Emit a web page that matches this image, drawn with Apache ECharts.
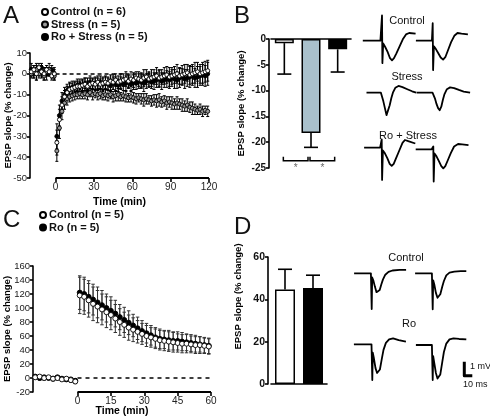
<!DOCTYPE html>
<html><head><meta charset="utf-8">
<script src="https://cdn.jsdelivr.net/npm/echarts@6/dist/echarts.min.js"></script>
<style>html,body{margin:0;padding:0;background:#fff}#c{width:490px;height:416px}</style>
</head><body><div id="c"></div>
<script>
// ---------------- Panel A data ----------------
const timeA = [-19,-17,-15,-13,-11,-9,-7,-5,-3,-1,
  1,3,5,7,9,11,13,15,17,19, 21,23,25,27,29,31,33,35,37,39,
  41,43,45,47,49,51,53,55,57,59, 61,63,65,67,69,71,73,75,77,79,
  81,83,85,87,89,91,93,95,97,99, 101,103,105,107,109,111,113,115,117,119];
const controlA = [1,2,0,3,1,0,2,1,-1,0,
  -33,-22,-15,-11,-9,-7.5,-7,-6.5,-6,-6, -5.5,-5,-6,-5,-4.5,-5,-4,-5,-4.5,-4,
  -4.5,-3.5,-4,-3,-4,-3.5,-3,-2.5,-3.5,-2.5, -3,-2,-2.5,-3,-2,-1.5,-2.5,-2,-1.5,-1,
  -2,-1.5,-1,-0.5,-1.5,-1,-0.5,0,-1,-0.5, 0,0.5,-0.5,0,0.5,1,0,0.5,1,1.5];
const stressA = [0,1,2,0,1,-1,1,2,0,-1,
  -37,-26,-18,-14,-12,-11,-10.5,-10,-10,-9.5, -10,-9.5,-10,-9,-10,-9.5,-10,-9.5,-10.5,-10,
  -10.5,-10,-11,-10.5,-10,-11,-10.5,-11,-11.5,-11, -11.5,-12,-11.5,-12,-12.5,-12,-12.5,-13,-12.5,-13,
  -12.5,-13.5,-13,-14,-13.5,-14,-14.5,-14,-14.5,-15, -15.5,-15,-16,-16.5,-17,-17.5,-17,-18,-17.5,-18];
const roStressA = [2,0,1,1,3,1,0,1,2,0,
  -30,-20,-13,-10,-8,-7,-6.5,-6,-5.5,-5, -5.5,-4.5,-5,-4,-5,-4.5,-5,-4,-5,-4.5,
  -5,-5.5,-4.5,-5,-5.5,-4.5,-5,-4.5,-4,-5, -4,-4.5,-3.5,-4,-4.5,-3.5,-3,-4,-3.5,-3,
  -2.5,-3.5,-3,-2.5,-3,-2,-2.5,-3,-2,-1.5, -2.5,-2,-1.5,-1,-2,-1.5,-1,-0.5,-1,0];
const controlAErr = [2,2,3,2,2,3,2,2,2,2,
  6,5,4,3,3,3,2.5,2.5,2.5,2.5, 2.5,3,2.5,3,2.5,3,3,2.5,3,3,
  3,3,3.5,3,3,3.5,3,3.5,3,3.5, 3.5,3,3.5,3.5,4,3.5,3.5,4,3.5,4,
  4,3.5,4,4,4.5,4,4,4.5,4,4.5, 4.5,4,4.5,4.5,5,4.5,4.5,5,5,5];
const stressAErr = [2,3,2,2,3,2,2,3,2,2,
  5,5,4,3,3,2.5,2.5,2.5,2,2.5, 2,2.5,2.5,2,2.5,2,2.5,2.5,2,2.5,
  2.5,2,2.5,2.5,3,2,2.5,2.5,2,2.5, 2.5,2.5,2,2.5,3,2.5,2,2.5,2.5,3,
  3,2.5,2.5,3,2.5,3,2.5,3,2.5,3, 2.5,3,2.5,3,2.5,2,2.5,2.5,2,2.5];
const roStressAErr = [3,2,4,2,2,2,3,2,2,3,
  6,5,4,3.5,3,3,3,2.5,3,2.5, 3,2.5,3,3,2.5,3,3,3,3,3,
  3,3,3,3.5,3,3,3,3.5,3,3, 3.5,3,3.5,3,4,3.5,3.5,3,4,3.5,
  4,4,3.5,4,4,4,4.5,4,4.5,4, 4.5,4,5,4.5,4.5,5,4.5,5,5,5.5];
const ticksA = [0,30,60,90,120];

// ---------------- Panel B data ----------------
const categoriesB = ['Control','Stress','Ro + Stress'];
const valuesB = [-0.8,-18.2,-2.0];
const errorsB = [6.0,2.8,4.4];
const sigPairsB = [[0,1],[1,2]];
const sigLevelB = -23.6;

// ---------------- Panel C data ----------------
const timeC = [-19,-17,-15,-13,-11,-9,-7,-5,-3,-1,
  1,3,5,7,9,11,13,15,17,19, 21,23,25,27,29,31,33,35,37,39, 41,43,45,47,49,51,53,55,57,59];
const controlC = [1,2,0,1,-1,0,-2,-1,-3,-5,
  118,116,111,106,102,98,94,90,85,80, 76,72,69,66,63,60,58,56,54,53, 52,51,50,49,49,48,47,47,46,45];
const roC = [2,0,1,0,-1,1,-1,-2,-2,-4,
  122,120,116,112,108,104,100,96,92,87, 83,79,75,71,67,64,61,58,56,55, 54,53,53,52,51,50,49,48,47,46];
const controlCErr = [2,2,3,2,2,3,2,2,3,3,
  26,25,24,24,23,22,22,21,20,19, 18,18,17,16,15,15,14,14,14,14, 14,14,13,13,13,12,12,12,11,11];
const roCErr = [2,3,2,2,3,2,2,3,2,3,
  24,24,23,22,22,21,20,20,19,18, 18,17,16,16,15,14,14,14,14,13, 14,13,13,13,12,12,12,11,11,11];
const ticksC = [0,15,30,45,60];

// ---------------- Panel D data ----------------
const categoriesD = ['Control','Ro'];
const valuesD = [44.6,45.4];
const errorsD = [9.6,6.0];

// ---------------- Example traces [ms, mV] ----------------
const traceBControl1 = [[-24,0],[-2,0],[0,1.8],[0.5,-1.6],[1.5,-0.2],[4,-0.45],[7,-0.8],[10,-1.25],[12.5,-1.4],[15,-1.25],[18,-0.9],[22,-0.4],[26,0.1],[30,0.45],[34,0.55],[42,0.5]];
const traceBControl2 = [[-21,0],[-1,0],[0,1.25],[0.5,-2.1],[1.5,-0.4],[4,-0.6],[7,-0.9],[10,-1.2],[13,-1.35],[16,-1.15],[19,-0.7],[23,-0.1],[27,0.35],[31,0.55],[36,0.5],[44,0.45]];
const traceBStress1 = [[-19,0],[-1,0],[0,-0.2],[2,-0.6],[4,-1.1],[6,-1.6],[7,-1.7],[8,-1.5],[10,-0.9],[12,-0.4],[14,0],[17,0.35],[21,0.48],[26,0.4],[32,0.25],[38,0.1],[43,0]];
const traceBStress2 = [[-21,0],[-1,0],[0,-0.1],[2,-0.4],[4,-0.8],[6,-1.1],[8,-1.25],[10,-1.0],[12,-0.5],[14,-0.1],[17,0.25],[21,0.38],[26,0.33],[32,0.2],[38,0.08],[46,0]];
const traceBRo1 = [[-22,0],[-2,0],[0,0.6],[0.5,-2.3],[1.5,-0.2],[4,-0.4],[7,-0.75],[10,-1.15],[12.5,-1.3],[15,-1.15],[18,-0.75],[22,-0.2],[26,0.35],[29,0.55],[34,0.45],[42,0.3]];
const traceBRo2 = [[-22,0],[-2,0],[0,0.2],[0.5,-2.3],[1.5,-0.3],[4,-0.5],[7,-0.85],[10,-1.2],[12.5,-1.36],[15,-1.2],[18,-0.8],[22,-0.25],[26,0.2],[31,0.38],[36,0.35],[44,0.3]];
const traceDControl1 = [[-22,0],[-1,0],[0,-2.55],[0.6,-0.3],[2,-0.5],[4,-0.95],[6,-1.35],[8,-1.42],[10,-1.2],[12,-0.8],[14,-0.45],[17,-0.1],[21,0.1],[26,0.2],[35,0.24],[43,0.25]];
const traceDControl2 = [[-22,0],[-1,0],[0,-2.57],[0.6,-0.5],[2,-0.8],[4,-1.4],[6,-1.75],[7.5,-1.8],[9.5,-1.5],[12,-0.95],[14,-0.55],[17,-0.15],[21,0.05],[27,0.12],[35,0.15],[42,0.15]];
const traceDRo1 = [[-23,0],[-1,0],[0,-2.55],[0.6,-0.6],[2,-1.0],[4,-1.7],[6,-2.05],[7.5,-2.12],[9.5,-1.8],[12,-1.0],[14,-0.4],[17,0.1],[21,0.35],[26,0.43],[33,0.3],[42,0.19]];
const traceDRo2 = [[-21,0],[-1,0],[0,-2.5],[0.6,-0.8],[2,-1.3],[4,-2.0],[6,-2.4],[7.5,-2.45],[9.5,-2.1],[12,-1.2],[14,-0.5],[17,0.1],[21,0.4],[26,0.48],[33,0.43],[42,0.4]];
const scaleBar = [[0,1],[0,0],[10,0]]; // 1 mV, 10 ms

// ---------------- build ----------------
const FONT = "'Liberation Sans', Arial, Helvetica, sans-serif";
const BLACK = '#000';
const barColorsB = ['#ffffff','#a9c0cb','#000000'];
const barColorsD = ['#ffffff','#000000'];

function errorBars(name, xi, yi, xs, ys, es, o) {
  return {
    type:'custom', name, xAxisIndex:xi, yAxisIndex:yi, silent:true, z:o.z || 2,
    encode:{x:0, y:1},
    data: xs.map((x,i)=>[x, ys[i], es[i]]),
    renderItem(params, api){
      const x = api.value(0), y = api.value(1), e = api.value(2);
      const t = api.coord([x, o.dir === 'lower' ? y : y + e]);
      const b = api.coord([x, o.dir === 'upper' ? y : y - e]);
      const w = o.cap / 2;
      const st = {stroke:o.color, lineWidth:o.width};
      const ch = [{type:'line', shape:{x1:t[0],y1:t[1],x2:b[0],y2:b[1]}, style:st}];
      if (o.dir !== 'lower') ch.push({type:'line', shape:{x1:t[0]-w,y1:t[1],x2:t[0]+w,y2:t[1]}, style:st});
      if (o.dir !== 'upper') ch.push({type:'line', shape:{x1:b[0]-w,y1:b[1],x2:b[0]+w,y2:b[1]}, style:st});
      return {type:'group', children:ch};
    }
  };
}
function scatter(name, xi, yi, xs, ys, fill, size, z) {
  return {type:'scatter', name, xAxisIndex:xi, yAxisIndex:yi, z:z,
    data: xs.map((x,i)=>[x, ys[i]]), symbol:'circle', symbolSize:size,
    itemStyle:{color:fill, borderColor:'#000', borderWidth:0.9, opacity:1}};
}
const axisLineStyle = {color:BLACK, width:1.6};
const nameStyle = {fontWeight:'bold', fontSize:9.5, color:BLACK, fontFamily:FONT};

const grid = [
  {left:30, top:53, width:179, height:125},
  {left:271, top:39, width:80, height:129},
  {left:33, top:266, width:178, height:126},
  {left:271, top:257, width:56, height:127}
];
const xAxis = [
  {gridIndex:0, type:'value', min:-20, max:120,
    axisLine:{show:false, onZero:false}, splitLine:{show:false},
    axisTick:{show:true, customValues:ticksA, length:4, lineStyle:axisLineStyle},
    axisLabel:{customValues:ticksA, fontSize:10, color:'#222', margin:4},
    name:'Time (min)', nameLocation:'middle', nameGap:19, nameMoveOverlap:false,
    nameTextStyle:Object.assign({}, nameStyle, {fontSize:10.5})},
  {gridIndex:1, type:'category', data:categoriesB, position:'top',
    axisLine:{show:true, onZero:false, lineStyle:axisLineStyle},
    axisTick:{show:false}, axisLabel:{show:false}, splitLine:{show:false}},
  {gridIndex:2, type:'value', min:-20, max:60,
    axisLine:{show:false, onZero:false}, splitLine:{show:false},
    axisTick:{show:true, customValues:ticksC, length:4, lineStyle:axisLineStyle},
    axisLabel:{customValues:ticksC, fontSize:10, color:'#222', margin:4},
    name:'Time (min)', nameLocation:'middle', nameGap:14, nameMoveOverlap:false,
    nameTextStyle:Object.assign({}, nameStyle, {fontSize:10.5})},
  {gridIndex:3, type:'category', data:categoriesD,
    axisLine:{show:true, onZero:false, lineStyle:axisLineStyle},
    axisTick:{show:false}, axisLabel:{show:false}, splitLine:{show:false}}
];
const yAxis = [
  {gridIndex:0, type:'value', min:-50, max:10, interval:10,
    axisLine:{show:true, onZero:false, lineStyle:axisLineStyle}, axisTick:{show:true, length:3, lineStyle:axisLineStyle},
    splitLine:{show:false}, axisLabel:{fontSize:9.5, color:'#222', margin:3},
    name:'EPSP slope (% change)', nameLocation:'middle', nameGap:17, nameMoveOverlap:false, nameTextStyle:nameStyle},
  {gridIndex:1, type:'value', min:-25, max:0, interval:5, offset:2,
    axisLine:{show:true, onZero:false, lineStyle:axisLineStyle}, axisTick:{show:true, length:3, lineStyle:axisLineStyle},
    splitLine:{show:false}, axisLabel:{fontSize:10, fontWeight:'bold', color:'#111', margin:3},
    name:'EPSP slope (% change)', nameLocation:'middle', nameGap:23, nameMoveOverlap:false, nameTextStyle:nameStyle},
  {gridIndex:2, type:'value', min:-20, max:160, interval:20,
    axisLine:{show:true, onZero:false, lineStyle:axisLineStyle}, axisTick:{show:true, length:3, lineStyle:axisLineStyle},
    splitLine:{show:false}, axisLabel:{fontSize:9.5, color:'#222', margin:3},
    name:'EPSP slope (% change)', nameLocation:'middle', nameGap:21, nameMoveOverlap:false, nameTextStyle:nameStyle},
  {gridIndex:3, type:'value', min:0, max:60, interval:20, offset:3,
    axisLine:{show:true, onZero:false, lineStyle:axisLineStyle}, axisTick:{show:true, length:3, lineStyle:axisLineStyle},
    splitLine:{show:false}, axisLabel:{fontSize:10.5, fontWeight:'bold', color:'#111', margin:3},
    name:'EPSP slope (% change)', nameLocation:'middle', nameGap:25, nameMoveOverlap:false,
    nameTextStyle:Object.assign({}, nameStyle, {padding:[0,0,0,48]})}
];

const series = [];
// Panel A
series.push(errorBars('errRoA',0,0,timeA,roStressA,roStressAErr,{cap:3,color:BLACK,width:1,dir:'both'}));
series.push(errorBars('errStressA',0,0,timeA,stressA,stressAErr,{cap:3,color:BLACK,width:1,dir:'both'}));
series.push(errorBars('errCtrlA',0,0,timeA,controlA,controlAErr,{cap:3,color:BLACK,width:1,dir:'both'}));
const axisA = scatter('Ro + Stress (n = 5)',0,0,timeA,roStressA,'#000',4,3);
axisA.markLine = {silent:true, symbol:['none','none'], label:{show:false}, z:1,
  data:[
    [{coord:[0,-50], lineStyle:{type:'solid', width:2, color:BLACK}},{coord:[120,-50]}],
    [{coord:[0,0], lineStyle:{type:[4,3], width:1.5, color:BLACK}},{coord:[120,0]}]
  ]};
series.push(axisA);
series.push(scatter('Stress (n = 5)',0,0,timeA,stressA,'#9a9a9a',4,4));
series.push(scatter('Control (n = 6)',0,0,timeA,controlA,'#ffffff',4,5));

// Panel B
series.push({type:'bar', name:'barsB', xAxisIndex:1, yAxisIndex:1, barWidth:19, z:2,
  data: valuesB.map((v,i)=>({value:v, itemStyle:{color:barColorsB[i], borderColor:BLACK, borderWidth:1.5}}))});
series.push(errorBars('errB',1,1,categoriesB,valuesB,errorsB,{cap:14,color:BLACK,width:1.6,dir:'lower',z:1}));
series.push({type:'custom', name:'sigB', xAxisIndex:1, yAxisIndex:1, silent:true, encode:{x:0,y:2},
  data: sigPairsB.map(p=>[p[0],p[1],sigLevelB]),
  renderItem(params, api){
    const a = api.coord([api.value(0), api.value(2)]);
    const b = api.coord([api.value(1), api.value(2)]);
    const x1 = a[0]-1, x2 = b[0]-3, y = a[1];
    return {type:'group', children:[
      {type:'polyline', shape:{points:[[x1,y-4],[x1,y],[x2,y],[x2,y-4]]}, style:{stroke:BLACK, lineWidth:1.5, fill:null}},
      {type:'text', style:{text:'*', x:(x1+x2)/2, y:y+2, align:'center', verticalAlign:'top', fill:'#666', fontSize:10, fontFamily:FONT}}
    ]};
  }});

// Panel C
series.push(errorBars('errRoC',2,2,timeC,roC,roCErr,{cap:3.5,color:'#333',width:1,dir:'both'}));
series.push(errorBars('errCtrlC',2,2,timeC,controlC,controlCErr,{cap:3.5,color:'#333',width:1,dir:'both'}));
const axisC = scatter('Ro (n = 5)',2,2,timeC,roC,'#000',5,3);
axisC.markLine = {silent:true, symbol:['none','none'], label:{show:false}, z:1,
  data:[
    [{coord:[0,-20], lineStyle:{type:'solid', width:2, color:BLACK}},{coord:[60,-20]}],
    [{coord:[0,0], lineStyle:{type:[4,4], width:1.5, color:BLACK}},{coord:[60,0]}]
  ]};
series.push(axisC);
series.push(scatter('Control (n = 5)',2,2,timeC,controlC,'#ffffff',5,4));

// Panel D
series.push({type:'bar', name:'barsD', xAxisIndex:3, yAxisIndex:3, barWidth:20, z:2,
  data: valuesD.map((v,i)=>({value:v, itemStyle:{color:barColorsD[i], borderColor:BLACK, borderWidth:1.5}}))});
series.push(errorBars('errD',3,3,categoriesD,valuesD,errorsD,{cap:14,color:BLACK,width:1.6,dir:'upper',z:1}));

// Traces
const PX_PER_MS = 0.8, PX_PER_MV = 14;
const traces = [
  {data:traceBControl1, stim:[382,40.7]},
  {data:traceBControl2, stim:[432.7,40.7]},
  {data:traceBStress1, stim:[381.7,92.7]},
  {data:traceBStress2, stim:[433.3,92.7]},
  {data:traceBRo1, stim:[381.7,147.7]},
  {data:traceBRo2, stim:[433.3,149.3]},
  {data:traceDControl1, stim:[371.7,273.3]},
  {data:traceDControl2, stim:[432.7,273.3]},
  {data:traceDRo1, stim:[372.3,344.3]},
  {data:traceDRo2, stim:[432.7,345]},
  {data:scaleBar, stim:[464.3,375.7], width:3}
];
traces.forEach(t=>{
  const g = grid.length;
  grid.push({left:t.stim[0]-30*PX_PER_MS, top:t.stim[1]-2*PX_PER_MV, width:80*PX_PER_MS, height:6*PX_PER_MV});
  xAxis.push({gridIndex:g, type:'value', min:-30, max:50, show:false});
  yAxis.push({gridIndex:g, type:'value', min:-4, max:2, show:false});
  series.push({type:'line', xAxisIndex:g, yAxisIndex:g, data:t.data, symbol:'none', silent:true,
    lineStyle:{color:BLACK, width:t.width || 1.8, join:'round'}});
});

function txt(text, x, y, size, align, vAlign, weight) {
  return {type:'text', x:x, y:y, silent:true, style:{text:text, fontSize:size, fontFamily:FONT,
    fontWeight:weight || 'normal', fill:'#111', align:align || 'left', verticalAlign:vAlign || 'top'}};
}
const graphic = [
  txt('A', 3, 4, 24), txt('B', 234, 4, 24), txt('C', 3, 208, 24), txt('D', 234, 215, 24),
  txt('Control', 407, 21, 11, 'center', 'middle'),
  txt('Stress', 407, 77, 11, 'center', 'middle'),
  txt('Ro + Stress', 408, 136, 11, 'center', 'middle'),
  txt('Control', 406, 258, 11, 'center', 'middle'),
  txt('Ro', 409, 324, 11, 'center', 'middle'),
  txt('1 mV', 470, 367, 9, 'left', 'middle'),
  txt('10 ms', 463, 385, 9, 'left', 'middle')
];

const legendCommon = {orient:'vertical', padding:0, itemWidth:6, itemHeight:6, itemGap:0.5, icon:'circle',
  textStyle:{fontSize:11, fontWeight:'bold', color:'#111', fontFamily:FONT, lineHeight:12, padding:[0,0,0,-2]},
  selectedMode:false};
const legend = [
  Object.assign({}, legendCommon, {left:41, top:6, data:['Control (n = 6)','Stress (n = 5)','Ro + Stress (n = 5)']}),
  Object.assign({}, legendCommon, {left:39, top:209, data:['Control (n = 5)','Ro (n = 5)']})
];

const chart = echarts.init(document.getElementById('c'), null, {renderer:'canvas'});
chart.setOption({animation:false, backgroundColor:'#fff', textStyle:{fontFamily:FONT},
  grid:grid.map(g=>Object.assign({outerBoundsMode:'none'}, g)), xAxis, yAxis, series, legend, graphic});
</script></body></html>
